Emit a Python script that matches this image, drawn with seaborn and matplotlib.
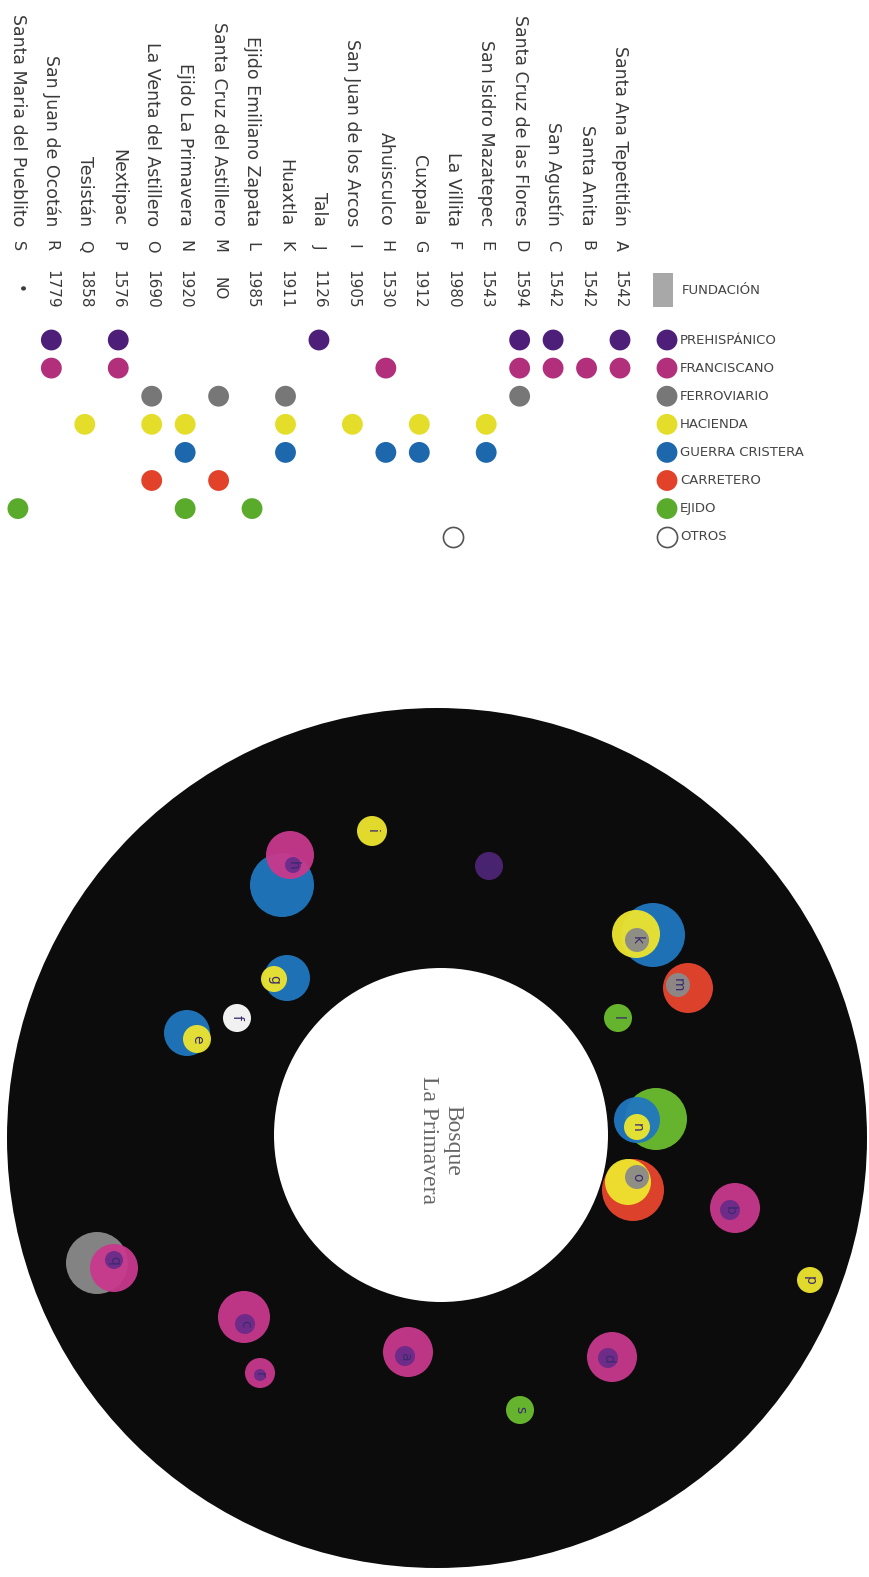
import matplotlib
matplotlib.use("Agg")
import matplotlib.pyplot as plt
from matplotlib.patches import Circle, Rectangle
import pandas as pd
import seaborn as sns

# table (read top to bottom in the picture, A first)
places = ["Santa Ana Tepetitlán", "Santa Anita", "San Agustín", "Santa Cruz de las Flores",
          "San Isidro Mazatepec", "La Villita", "Cuxpala", "Ahuisculco",
          "San Juan de los Arcos", "Tala", "Huaxtla", "Ejido Emiliano Zapata",
          "Santa Cruz del Astillero", "Ejido La Primavera", "La Venta del Astillero",
          "Nextipac", "Tesistán", "San Juan de Ocotán", "Santa Maria del Pueblito"]
letters = list("ABCDEFGHIJKLMNOPQRS")
founded = ["1542", "1542", "1542", "1594", "1543", "1980", "1912", "1530", "1905", "1126",
           "1911", "1985", "NO", "1920", "1690", "1576", "1858", "1779", "•"]

categories = ["PREHISPÁNICO", "FRANCISCANO", "FERROVIARIO", "HACIENDA",
              "GUERRA CRISTERA", "CARRETERO", "EJIDO", "OTROS"]
cat_colors = ["#4e1f78", "#b22f7c", "#777777", "#e4de2a",
              "#1d68ad", "#e2412a", "#5aab2c", "#ffffff"]

# one entry per dot of the table
dot_letter = ["A", "A", "B", "C", "C", "D", "D", "D", "E", "E", "F", "G", "G", "H", "H",
              "I", "J", "K", "K", "K", "L", "M", "M", "N", "N", "N", "O", "O", "O",
              "P", "P", "Q", "R", "R", "S"]
dot_cat = ["PREHISPÁNICO", "FRANCISCANO", "FRANCISCANO", "PREHISPÁNICO", "FRANCISCANO",
           "PREHISPÁNICO", "FRANCISCANO", "FERROVIARIO", "HACIENDA", "GUERRA CRISTERA",
           "OTROS", "HACIENDA", "GUERRA CRISTERA", "FRANCISCANO", "GUERRA CRISTERA",
           "HACIENDA", "PREHISPÁNICO", "FERROVIARIO", "HACIENDA", "GUERRA CRISTERA",
           "EJIDO", "FERROVIARIO", "CARRETERO", "HACIENDA", "GUERRA CRISTERA", "EJIDO",
           "FERROVIARIO", "HACIENDA", "CARRETERO", "PREHISPÁNICO", "FRANCISCANO",
           "HACIENDA", "PREHISPÁNICO", "FRANCISCANO", "EJIDO"]

# bubbles around the forest (offsets from the forest centre, y pointing down)
layer_cat = ["FRANCISCANO", "PREHISPÁNICO", "FRANCISCANO", "PREHISPÁNICO",
             "FRANCISCANO", "PREHISPÁNICO", "FRANCISCANO", "PREHISPÁNICO",
             "GUERRA CRISTERA", "HACIENDA", "OTROS", "GUERRA CRISTERA", "HACIENDA",
             "GUERRA CRISTERA", "FRANCISCANO", "PREHISPÁNICO", "HACIENDA", "PREHISPÁNICO",
             "GUERRA CRISTERA", "HACIENDA", "FERROVIARIO", "EJIDO", "CARRETERO", "FERROVIARIO",
             "EJIDO", "GUERRA CRISTERA", "HACIENDA", "CARRETERO", "HACIENDA", "FERROVIARIO",
             "HACIENDA", "FERROVIARIO", "FRANCISCANO", "PREHISPÁNICO",
             "FRANCISCANO", "PREHISPÁNICO", "EJIDO"]
layer_dx = [-29, -32, 298, 293, -193, -192, 175, 171, -250, -240, -200, -150, -163,
            -155, -147, -144, -65, 52, 216, 199, 200, 181, 251, 241, 219, 200, 200,
            196, 191, 200, 373, -340, -323, -323, -177, -177, 83]
layer_dy = [214, 218, 70, 72, 179, 186, 219, 220, -105, -99, -120, -160, -159,
            -253, -283, -273, -307, -272, -203, -204, -198, -120, -150, -153, -19, -18, -11,
            52, 44, 39, 142, 125, 130, 122, 235, 237, 272]
layer_r = [25, 10, 25, 10, 26, 10, 25, 10, 23, 14, 14, 23, 13, 32, 24, 8, 15, 14,
           32, 24, 12, 14, 25, 12, 31, 23, 13, 31, 23, 12, 13, 31, 24, 9, 15, 6, 14]

bubble_label = list("abcdefghijklmnopqrs")
label_dx = [-32, 293, -192, 171, -240, -200, -163, -144, -65, 52, 200, 181, 241,
            200, 200, 373, -323, -177, 83]
label_dy = [218, 72, 186, 220, -99, -120, -159, -273, -307, -272, -198, -120, -153,
            -11, 39, 142, 122, 237, 272]

palette = dict(zip(categories, cat_colors))
bubble_colors = dict(zip(categories, ["#5a2a8a", "#c8388c", "#8a8a8a", "#eee52e",
                                      "#2077bf", "#e8452d", "#6cbd2f", "#ffffff"]))
text_color = "#3a3a3a"

sns.set_theme(style="white")
plt.rcParams["font.family"] = ["DejaVu Sans"]

fig = plt.figure(figsize=(8.69, 15.77), dpi=100)


# top table, one column per place
def tx(px):
    return (620 - px) / 33.45


def ty(py):
    return (py - 340) / 28.1


ax = fig.add_axes([0, 1 - 560 / 1577, 1, 560 / 1577])
ax.set_xlim(tx(0), tx(869))
ax.set_ylim(ty(560), ty(0))
ax.axis("off")

dots = pd.DataFrame({"letter": dot_letter, "cat": dot_cat})
dots["pos"] = [letters.index(l) for l in dots["letter"]]
dots["row"] = [categories.index(c) for c in dots["cat"]]
filled = dots[dots["cat"] != "OTROS"]
sns.scatterplot(data=filled, x="pos", y="row", hue="cat", palette=palette,
                s=225, linewidth=0, legend=False, ax=ax)
sns.scatterplot(data=dots[dots["cat"] == "OTROS"], x="pos", y="row", color="white",
                edgecolor="#555555", linewidth=1.2, s=210, legend=False, ax=ax)

for i, (name, let, yr) in enumerate(zip(places, letters, founded)):
    ax.text(i, ty(226), name, rotation=-90, ha="center", va="bottom",
            fontsize=12.5, color=text_color)
    ax.text(i, ty(246), let, rotation=-90, ha="center", va="center",
            fontsize=11.5, color=text_color)
    ax.text(i, ty(289), yr, rotation=-90, ha="center", va="center",
            fontsize=11, color=text_color)

# legend
leg = pd.DataFrame({"cat": categories, "row": range(len(categories))})
leg["pos"] = tx(667)
sns.scatterplot(data=leg[leg["cat"] != "OTROS"], x="pos", y="row", hue="cat",
                palette=palette, s=225, linewidth=0, legend=False, ax=ax)
sns.scatterplot(data=leg[leg["cat"] == "OTROS"], x="pos", y="row", color="white",
                edgecolor="#555555", linewidth=1.2, s=210, legend=False, ax=ax)
for j, c in enumerate(categories):
    ax.text(tx(680), j, c, ha="left", va="center", fontsize=9.5, color="#444444")
ax.add_patch(Rectangle((tx(653), ty(273)), tx(673) - tx(653), ty(307) - ty(273),
                       facecolor="#a8a8a8", edgecolor="none"))
ax.text(tx(682), ty(291), "FUNDACIÓN", ha="left", va="center", fontsize=9.5, color="#444444")

# bottom: the forest ring
ax2 = fig.add_axes([0, 0, 1, 877 / 1577])
ax2.set_xlim(-437, 432)
ax2.set_ylim(439, -438)
ax2.set_aspect("equal")
ax2.axis("off")

ax2.add_patch(Circle((0, 0), 430, facecolor="#0c0c0c", edgecolor="none"))
ax2.add_patch(Circle((4, -3), 167, facecolor="white", edgecolor="none"))
ax2.text(4, 2, "Bosque\nLa Primavera", rotation=-90, ha="center", va="center",
         multialignment="center", fontsize=17, color="#666666",
         family=["Liberation Serif", "DejaVu Serif"])

for c, dx, dy, r in zip(layer_cat, layer_dx, layer_dy, layer_r):
    ax2.add_patch(Circle((dx, dy), r, facecolor=bubble_colors[c], edgecolor="none",
                         alpha=0.95 if c != "PREHISPÁNICO" else 0.8))

for lab, dx, dy in zip(bubble_label, label_dx, label_dy):
    ax2.text(dx, dy, lab, rotation=-90, ha="center", va="center",
             fontsize=10, color="#3b2a6e")

fig.savefig("out.png", dpi=100, facecolor="white")
